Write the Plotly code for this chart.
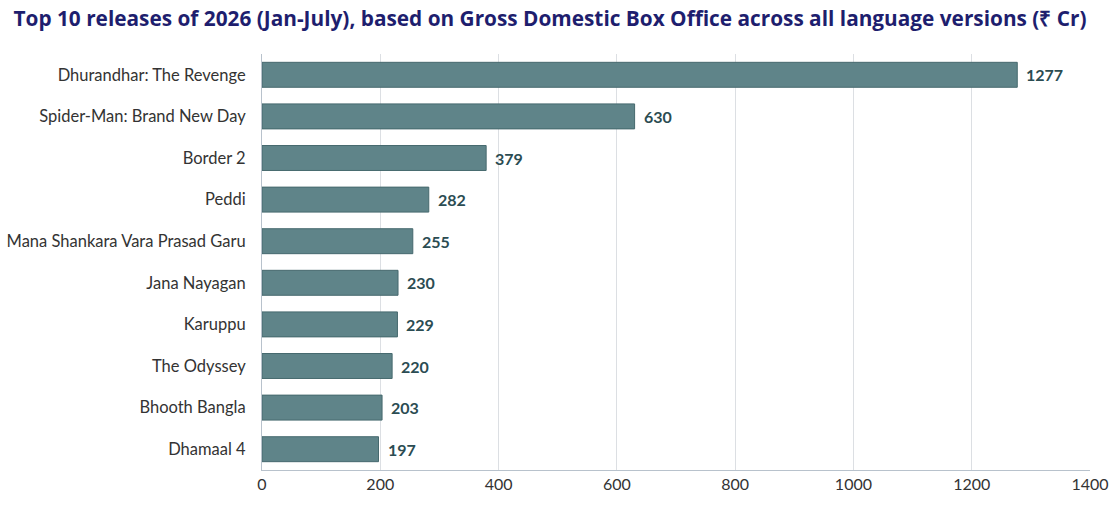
import plotly.graph_objects as go

films = ['Dhurandhar: The Revenge', 'Spider-Man: Brand New Day', 'Border 2', 'Peddi',
         'Mana Shankara Vara Prasad Garu', 'Jana Nayagan', 'Karuppu', 'The Odyssey',
         'Bhooth Bangla', 'Dhamaal 4']
gross_cr = [1277, 630, 379, 282, 255, 230, 229, 220, 203, 197]
x_ticks = [0, 200, 400, 600, 800, 1000, 1200, 1400]

bar_color = '#5f8489'
label_color = '#2b4c52'

fig = go.Figure(go.Bar(
    x=gross_cr, y=films, orientation='h',
    marker=dict(color=bar_color, line=dict(color='#46696e', width=1)),
    width=0.6,
    hoverinfo='x+y',
))

for f, v in zip(films, gross_cr):
    fig.add_annotation(x=v, y=f, text=f'<b>{v}</b>', showarrow=False,
                       xanchor='left', xshift=7,
                       font=dict(family='Lato', size=16, color=label_color))

fig.update_layout(
    width=1110, height=505,
    margin=dict(l=262, r=20, t=54, b=35),
    plot_bgcolor='white', paper_bgcolor='white',
    title=dict(text='<b>Top 10 releases of 2026 (Jan-July), based on Gross Domestic Box Office across all language versions (₹ Cr)</b>',
               x=550 / 1110, xanchor='center', y=1 - 19 / 505, yanchor='middle',
               font=dict(family='Open Sans', size=20.8, color='#1e1e6e')),
    font=dict(family='Lato', size=16.5, color='#333333'),
    showlegend=False,
    bargap=0.4,
)
fig.update_xaxes(range=[0, 1400], tickvals=x_ticks, showgrid=True, gridcolor='#dcdfe3',
                 gridwidth=1, showline=True, linecolor='#b8c2cc', linewidth=1,
                 zeroline=False, ticks='', ticklen=0, automargin=False,
                 tickfont=dict(size=16, color='#333333'))
fig.update_yaxes(autorange='reversed', showline=True, linecolor='#b8c2cc', linewidth=1,
                 ticks='', ticklabelstandoff=12, automargin=False,
                 tickfont=dict(size=16.5, color='#333333'))

# drop the default 8px page margin so the figure fills the window
fig.write_html('out.html', config={'displayModeBar': False},
               post_script="document.body.style.margin = '0';")
